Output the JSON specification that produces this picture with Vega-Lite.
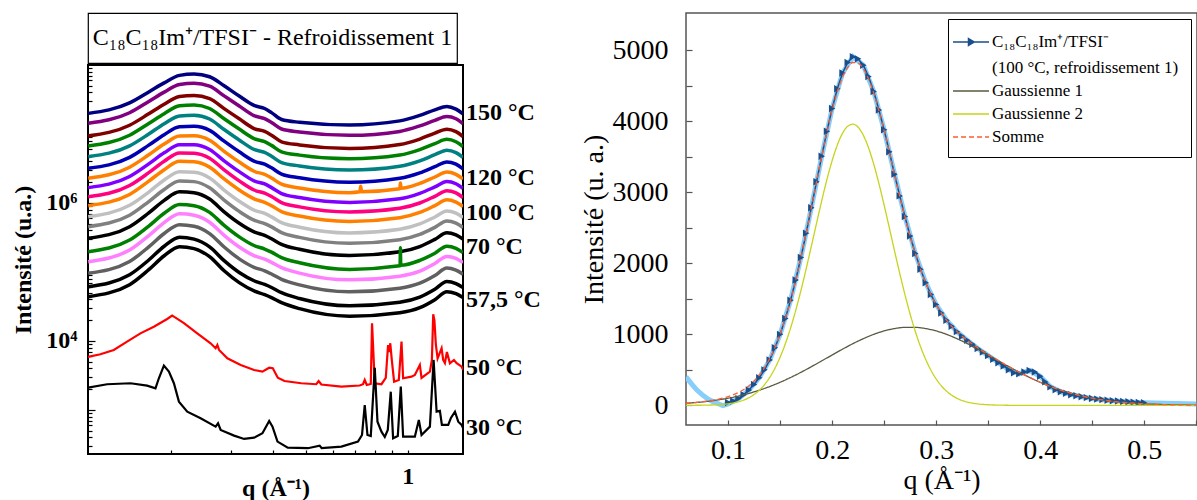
{
  "$schema": "https://vega.github.io/schema/vega-lite/v6.json",
  "padding": {"left": 10, "top": 12, "right": 0, "bottom": 0},
  "background": "white",
  "config": {
    "font": "Liberation Serif",
    "axis": {"grid": false, "domain": false, "labelFont": "Liberation Serif", "titleFont": "Liberation Serif", "labelColor": "black", "titleColor": "black"},
    "legend": {"labelFont": "Liberation Serif", "labelColor": "black"}
  },
  "resolve": {"scale": {"color": "independent", "strokeDash": "independent"}, "legend": {"color": "independent", "strokeDash": "independent"}},
  "datasets": {
    "ttl": [{"t": "C₁₈C₁₈Im⁺/TFSI⁻ - Refroidissement 1"}],
    "lab": [
      {"label": "150 °C", "q": 1.455, "I": 2.01e7},
      {"label": "120 °C", "q": 1.455, "I": 2.3e6},
      {"label": "100 °C", "q": 1.455, "I": 7.16e5},
      {"label": "70 °C", "q": 1.455, "I": 2.3e5},
      {"label": "57,5 °C", "q": 1.455, "I": 3.93e4},
      {"label": "50 °C", "q": 1.455, "I": 4.06e3},
      {"label": "30 °C", "q": 1.455, "I": 548}
    ],
    "liq": [
      {"T":"150","q":0.114,"I":1.99e7},{"T":"150","q":0.151,"I":2.82e7},{"T":"150","q":0.172,"I":4.07e7},{"T":"150","q":0.191,"I":5.50e7},{"T":"150","q":0.212,"I":7.08e7},{"T":"150","q":0.234,"I":7.41e7},{"T":"150","q":0.26,"I":6.76e7},{"T":"150","q":0.287,"I":5.01e7},{"T":"150","q":0.318,"I":3.55e7},{"T":"150","q":0.353,"I":2.57e7},{"T":"150","q":0.378,"I":2.34e7},{"T":"150","q":0.396,"I":2.04e7},{"T":"150","q":0.424,"I":1.62e7},{"T":"150","q":0.479,"I":1.48e7},{"T":"150","q":0.673,"I":1.35e7},{"T":"150","q":0.947,"I":1.55e7},{"T":"150","q":1.085,"I":1.86e7},{"T":"150","q":1.202,"I":2.24e7},{"T":"150","q":1.304,"I":2.51e7},{"T":"150","q":1.387,"I":2.29e7},{"T":"150","q":1.455,"I":1.95e7},
      {"T":"145","q":0.114,"I":1.43e7},{"T":"145","q":0.151,"I":2.03e7},{"T":"145","q":0.172,"I":2.96e7},{"T":"145","q":0.191,"I":4.04e7},{"T":"145","q":0.212,"I":5.20e7},{"T":"145","q":0.234,"I":5.42e7},{"T":"145","q":0.26,"I":4.94e7},{"T":"145","q":0.287,"I":3.57e7},{"T":"145","q":0.318,"I":2.55e7},{"T":"145","q":0.353,"I":1.83e7},{"T":"145","q":0.378,"I":1.67e7},{"T":"145","q":0.396,"I":1.47e7},{"T":"145","q":0.424,"I":1.18e7},{"T":"145","q":0.479,"I":1.07e7},{"T":"145","q":0.673,"I":9.57e6},{"T":"145","q":0.947,"I":1.09e7},{"T":"145","q":1.085,"I":1.31e7},{"T":"145","q":1.202,"I":1.58e7},{"T":"145","q":1.304,"I":1.79e7},{"T":"145","q":1.387,"I":1.66e7},{"T":"145","q":1.455,"I":1.41e7},
      {"T":"140","q":0.114,"I":9.35e6},{"T":"140","q":0.151,"I":1.34e7},{"T":"140","q":0.172,"I":1.96e7},{"T":"140","q":0.191,"I":2.70e7},{"T":"140","q":0.212,"I":3.49e7},{"T":"140","q":0.234,"I":3.61e7},{"T":"140","q":0.26,"I":3.25e7},{"T":"140","q":0.287,"I":2.33e7},{"T":"140","q":0.318,"I":1.66e7},{"T":"140","q":0.353,"I":1.19e7},{"T":"140","q":0.378,"I":1.09e7},{"T":"140","q":0.396,"I":9.59e6},{"T":"140","q":0.424,"I":7.71e6},{"T":"140","q":0.479,"I":6.95e6},{"T":"140","q":0.673,"I":6.17e6},{"T":"140","q":0.947,"I":7.03e6},{"T":"140","q":1.085,"I":8.45e6},{"T":"140","q":1.202,"I":1.03e7},{"T":"140","q":1.304,"I":1.17e7},{"T":"140","q":1.387,"I":1.08e7},{"T":"140","q":1.455,"I":9.18e6},
      {"T":"135","q":0.114,"I":6.70e6},{"T":"135","q":0.151,"I":9.59e6},{"T":"135","q":0.172,"I":1.42e7},{"T":"135","q":0.191,"I":1.97e7},{"T":"135","q":0.212,"I":2.56e7},{"T":"135","q":0.234,"I":2.63e7},{"T":"135","q":0.26,"I":2.34e7},{"T":"135","q":0.287,"I":1.66e7},{"T":"135","q":0.318,"I":1.18e7},{"T":"135","q":0.353,"I":8.51e6},{"T":"135","q":0.378,"I":7.76e6},{"T":"135","q":0.396,"I":6.84e6},{"T":"135","q":0.424,"I":5.51e6},{"T":"135","q":0.479,"I":4.94e6},{"T":"135","q":0.673,"I":4.36e6},{"T":"135","q":0.947,"I":4.95e6},{"T":"135","q":1.085,"I":5.94e6},{"T":"135","q":1.202,"I":7.24e6},{"T":"135","q":1.304,"I":8.36e6},{"T":"135","q":1.387,"I":7.71e6},{"T":"135","q":1.455,"I":6.58e6},
      {"T":"130","q":0.114,"I":4.69e6},{"T":"130","q":0.151,"I":6.73e6},{"T":"130","q":0.172,"I":1.00e7},{"T":"130","q":0.191,"I":1.41e7},{"T":"130","q":0.212,"I":1.83e7},{"T":"130","q":0.234,"I":1.87e7},{"T":"130","q":0.26,"I":1.65e7},{"T":"130","q":0.287,"I":1.16e7},{"T":"130","q":0.318,"I":8.18e6},{"T":"130","q":0.353,"I":5.93e6},{"T":"130","q":0.378,"I":5.41e6},{"T":"130","q":0.396,"I":4.76e6},{"T":"130","q":0.424,"I":3.85e6},{"T":"130","q":0.479,"I":3.44e6},{"T":"130","q":0.673,"I":3.00e6},{"T":"130","q":0.947,"I":3.41e6},{"T":"130","q":1.085,"I":4.08e6},{"T":"130","q":1.202,"I":5.01e6},{"T":"130","q":1.304,"I":5.82e6},{"T":"130","q":1.387,"I":5.38e6},{"T":"130","q":1.455,"I":4.59e6},
      {"T":"125","q":0.114,"I":3.18e6},{"T":"125","q":0.151,"I":4.58e6},{"T":"125","q":0.172,"I":6.89e6},{"T":"125","q":0.191,"I":9.77e6},{"T":"125","q":0.212,"I":1.27e7},{"T":"125","q":0.234,"I":1.29e7},{"T":"125","q":0.26,"I":1.13e7},{"T":"125","q":0.287,"I":7.87e6},{"T":"125","q":0.318,"I":5.52e6},{"T":"125","q":0.353,"I":4.01e6},{"T":"125","q":0.378,"I":3.65e6},{"T":"125","q":0.396,"I":3.23e6},{"T":"125","q":0.424,"I":2.62e6},{"T":"125","q":0.479,"I":2.32e6},{"T":"125","q":0.673,"I":2.00e6},{"T":"125","q":0.947,"I":2.28e6},{"T":"125","q":1.085,"I":2.73e6},{"T":"125","q":1.202,"I":3.36e6},{"T":"125","q":1.304,"I":3.94e6},{"T":"125","q":1.387,"I":3.65e6},{"T":"125","q":1.455,"I":3.12e6},
      {"T":"120","q":0.114,"I":2.28e6},{"T":"120","q":0.151,"I":3.30e6},{"T":"120","q":0.172,"I":4.99e6},{"T":"120","q":0.191,"I":7.14e6},{"T":"120","q":0.212,"I":9.33e6},{"T":"120","q":0.234,"I":9.42e6},{"T":"120","q":0.26,"I":8.13e6},{"T":"120","q":0.287,"I":5.61e6},{"T":"120","q":0.318,"I":3.93e6},{"T":"120","q":0.353,"I":2.86e6},{"T":"120","q":0.378,"I":2.60e6},{"T":"120","q":0.396,"I":2.30e6},{"T":"120","q":0.424,"I":1.87e6},{"T":"120","q":0.479,"I":1.65e6},{"T":"120","q":0.673,"I":1.41e6},{"T":"120","q":0.722,"I":1.45e6},{"T":"120","q":0.726,"I":1.75e6},{"T":"120","q":0.73,"I":1.46e6},{"T":"120","q":0.947,"I":1.61e6},{"T":"120","q":0.951,"I":1.95e6},{"T":"120","q":0.955,"I":1.63e6},{"T":"120","q":1.085,"I":1.92e6},{"T":"120","q":1.202,"I":2.38e6},{"T":"120","q":1.304,"I":2.81e6},{"T":"120","q":1.387,"I":2.60e6},{"T":"120","q":1.455,"I":2.23e6},
      {"T":"115","q":0.114,"I":1.67e6},{"T":"115","q":0.151,"I":2.42e6},{"T":"115","q":0.172,"I":3.69e6},{"T":"115","q":0.191,"I":5.33e6},{"T":"115","q":0.212,"I":7.00e6},{"T":"115","q":0.234,"I":7.00e6},{"T":"115","q":0.26,"I":5.97e6},{"T":"115","q":0.287,"I":4.09e6},{"T":"115","q":0.318,"I":2.85e6},{"T":"115","q":0.353,"I":2.08e6},{"T":"115","q":0.378,"I":1.89e6},{"T":"115","q":0.396,"I":1.67e6},{"T":"115","q":0.424,"I":1.37e6},{"T":"115","q":0.479,"I":1.20e6},{"T":"115","q":0.673,"I":1.02e6},{"T":"115","q":0.947,"I":1.15e6},{"T":"115","q":1.085,"I":1.38e6},{"T":"115","q":1.202,"I":1.71e6},{"T":"115","q":1.304,"I":2.05e6},{"T":"115","q":1.387,"I":1.90e6},{"T":"115","q":1.455,"I":1.63e6},
      {"T":"110","q":0.114,"I":1.23e6},{"T":"110","q":0.151,"I":1.79e6},{"T":"110","q":0.172,"I":2.75e6},{"T":"110","q":0.191,"I":4.03e6},{"T":"110","q":0.212,"I":5.30e6},{"T":"110","q":0.234,"I":5.26e6},{"T":"110","q":0.26,"I":4.45e6},{"T":"110","q":0.287,"I":3.02e6},{"T":"110","q":0.318,"I":2.09e6},{"T":"110","q":0.353,"I":1.53e6},{"T":"110","q":0.378,"I":1.39e6},{"T":"110","q":0.396,"I":1.24e6},{"T":"110","q":0.424,"I":1.01e6},{"T":"110","q":0.479,"I":8.79e5},{"T":"110","q":0.673,"I":7.40e5},{"T":"110","q":0.947,"I":8.39e5},{"T":"110","q":1.085,"I":1.00e6},{"T":"110","q":1.202,"I":1.25e6},{"T":"110","q":1.304,"I":1.51e6},{"T":"110","q":1.387,"I":1.40e6},{"T":"110","q":1.455,"I":1.20e6},
      {"T":"105","q":0.114,"I":9.14e5},{"T":"105","q":0.151,"I":1.33e6},{"T":"105","q":0.172,"I":2.07e6},{"T":"105","q":0.191,"I":3.04e6},{"T":"105","q":0.212,"I":4.02e6},{"T":"105","q":0.234,"I":3.97e6},{"T":"105","q":0.26,"I":3.31e6},{"T":"105","q":0.287,"I":2.23e6},{"T":"105","q":0.318,"I":1.54e6},{"T":"105","q":0.353,"I":1.14e6},{"T":"105","q":0.378,"I":1.02e6},{"T":"105","q":0.396,"I":9.12e5},{"T":"105","q":0.424,"I":7.50e5},{"T":"105","q":0.479,"I":6.47e5},{"T":"105","q":0.673,"I":5.41e5},{"T":"105","q":0.947,"I":6.12e5},{"T":"105","q":1.085,"I":7.29e5},{"T":"105","q":1.202,"I":9.16e5},{"T":"105","q":1.304,"I":1.11e6},{"T":"105","q":1.387,"I":1.03e6},{"T":"105","q":1.455,"I":8.91e5},
      {"T":"100","q":0.114,"I":6.32e5},{"T":"100","q":0.151,"I":9.25e5},{"T":"100","q":0.172,"I":1.44e6},{"T":"100","q":0.191,"I":2.15e6},{"T":"100","q":0.212,"I":2.84e6},{"T":"100","q":0.234,"I":2.79e6},{"T":"100","q":0.26,"I":2.31e6},{"T":"100","q":0.287,"I":1.54e6},{"T":"100","q":0.318,"I":1.06e6},{"T":"100","q":0.353,"I":7.82e5},{"T":"100","q":0.378,"I":7.05e5},{"T":"100","q":0.396,"I":6.30e5},{"T":"100","q":0.424,"I":5.19e5},{"T":"100","q":0.479,"I":4.45e5},{"T":"100","q":0.673,"I":3.68e5},{"T":"100","q":0.947,"I":4.17e5},{"T":"100","q":1.085,"I":4.97e5},{"T":"100","q":1.202,"I":6.27e5},{"T":"100","q":1.304,"I":7.67e5},{"T":"100","q":1.387,"I":7.13e5},{"T":"100","q":1.455,"I":6.17e5},
      {"T":"90","q":0.114,"I":4.54e5},{"T":"90","q":0.151,"I":6.65e5},{"T":"90","q":0.172,"I":1.05e6},{"T":"90","q":0.191,"I":1.57e6},{"T":"90","q":0.212,"I":2.09e6},{"T":"90","q":0.234,"I":2.04e6},{"T":"90","q":0.26,"I":1.66e6},{"T":"90","q":0.287,"I":1.10e6},{"T":"90","q":0.318,"I":7.55e5},{"T":"90","q":0.353,"I":5.58e5},{"T":"90","q":0.378,"I":5.02e5},{"T":"90","q":0.396,"I":4.50e5},{"T":"90","q":0.424,"I":3.72e5},{"T":"90","q":0.479,"I":3.17e5},{"T":"90","q":0.673,"I":2.60e5},{"T":"90","q":0.947,"I":2.94e5},{"T":"90","q":1.085,"I":3.50e5},{"T":"90","q":1.202,"I":4.44e5},{"T":"90","q":1.304,"I":5.48e5},{"T":"90","q":1.387,"I":5.11e5},{"T":"90","q":1.455,"I":4.42e5},
      {"T":"80","q":0.114,"I":3.08e5},{"T":"80","q":0.151,"I":4.53e5},{"T":"80","q":0.172,"I":7.18e5},{"T":"80","q":0.191,"I":1.09e6},{"T":"80","q":0.212,"I":1.45e6},{"T":"80","q":0.234,"I":1.41e6},{"T":"80","q":0.26,"I":1.14e6},{"T":"80","q":0.287,"I":7.43e5},{"T":"80","q":0.318,"I":5.08e5},{"T":"80","q":0.353,"I":3.78e5},{"T":"80","q":0.378,"I":3.39e5},{"T":"80","q":0.396,"I":3.03e5},{"T":"80","q":0.424,"I":2.52e5},{"T":"80","q":0.479,"I":2.13e5},{"T":"80","q":0.673,"I":1.73e5},{"T":"80","q":0.947,"I":1.96e5},{"T":"80","q":1.085,"I":2.33e5},{"T":"80","q":1.202,"I":2.97e5},{"T":"80","q":1.304,"I":3.71e5},{"T":"80","q":1.387,"I":3.44e5},{"T":"80","q":1.455,"I":2.99e5},
      {"T":"70","q":0.114,"I":1.97e5},{"T":"70","q":0.151,"I":2.90e5},{"T":"70","q":0.172,"I":4.63e5},{"T":"70","q":0.191,"I":7.11e5},{"T":"70","q":0.212,"I":9.51e5},{"T":"70","q":0.234,"I":9.14e5},{"T":"70","q":0.26,"I":7.31e5},{"T":"70","q":0.287,"I":4.74e5},{"T":"70","q":0.318,"I":3.23e5},{"T":"70","q":0.353,"I":2.40e5},{"T":"70","q":0.378,"I":2.15e5},{"T":"70","q":0.396,"I":1.94e5},{"T":"70","q":0.424,"I":1.61e5},{"T":"70","q":0.479,"I":1.36e5},{"T":"70","q":0.673,"I":1.09e5},{"T":"70","q":0.947,"I":1.23e5},{"T":"70","q":0.949,"I":1.24e5},{"T":"70","q":0.951,"I":2.24e5},{"T":"70","q":0.953,"I":1.25e5},{"T":"70","q":1.085,"I":1.47e5},{"T":"70","q":1.202,"I":1.87e5},{"T":"70","q":1.304,"I":2.36e5},{"T":"70","q":1.387,"I":2.20e5},{"T":"70","q":1.455,"I":1.91e5},
      {"T":"65","q":0.114,"I":1.41e5},{"T":"65","q":0.151,"I":2.08e5},{"T":"65","q":0.172,"I":3.36e5},{"T":"65","q":0.191,"I":5.20e5},{"T":"65","q":0.212,"I":6.97e5},{"T":"65","q":0.234,"I":6.65e5},{"T":"65","q":0.26,"I":5.26e5},{"T":"65","q":0.287,"I":3.39e5},{"T":"65","q":0.318,"I":2.30e5},{"T":"65","q":0.353,"I":1.71e5},{"T":"65","q":0.378,"I":1.53e5},{"T":"65","q":0.396,"I":1.38e5},{"T":"65","q":0.424,"I":1.16e5},{"T":"65","q":0.479,"I":9.64e4},{"T":"65","q":0.673,"I":7.69e4},{"T":"65","q":0.947,"I":8.69e4},{"T":"65","q":1.085,"I":1.03e5},{"T":"65","q":1.202,"I":1.33e5},{"T":"65","q":1.304,"I":1.68e5},{"T":"65","q":1.387,"I":1.57e5},{"T":"65","q":1.455,"I":1.37e5},
      {"T":"62.5","q":0.114,"I":9.57e4},{"T":"62.5","q":0.151,"I":1.42e5},{"T":"62.5","q":0.172,"I":2.31e5},{"T":"62.5","q":0.191,"I":3.61e5},{"T":"62.5","q":0.212,"I":4.84e5},{"T":"62.5","q":0.234,"I":4.59e5},{"T":"62.5","q":0.26,"I":3.60e5},{"T":"62.5","q":0.287,"I":2.30e5},{"T":"62.5","q":0.318,"I":1.55e5},{"T":"62.5","q":0.353,"I":1.16e5},{"T":"62.5","q":0.378,"I":1.04e5},{"T":"62.5","q":0.396,"I":9.33e4},{"T":"62.5","q":0.424,"I":7.83e4},{"T":"62.5","q":0.479,"I":6.50e4},{"T":"62.5","q":0.673,"I":5.15e4},{"T":"62.5","q":0.947,"I":5.81e4},{"T":"62.5","q":1.085,"I":6.87e4},{"T":"62.5","q":1.202,"I":8.89e4},{"T":"62.5","q":1.304,"I":1.14e5},{"T":"62.5","q":1.387,"I":1.06e5},{"T":"62.5","q":1.455,"I":9.29e4},
      {"T":"60","q":0.114,"I":6.12e4},{"T":"60","q":0.151,"I":9.12e4},{"T":"60","q":0.172,"I":1.49e5},{"T":"60","q":0.191,"I":2.36e5},{"T":"60","q":0.212,"I":3.18e5},{"T":"60","q":0.234,"I":2.99e5},{"T":"60","q":0.26,"I":2.31e5},{"T":"60","q":0.287,"I":1.46e5},{"T":"60","q":0.318,"I":9.84e4},{"T":"60","q":0.353,"I":7.40e4},{"T":"60","q":0.378,"I":6.59e4},{"T":"60","q":0.396,"I":5.96e4},{"T":"60","q":0.424,"I":5.01e4},{"T":"60","q":0.479,"I":4.13e4},{"T":"60","q":0.673,"I":3.24e4},{"T":"60","q":0.947,"I":3.65e4},{"T":"60","q":1.085,"I":4.33e4},{"T":"60","q":1.202,"I":5.62e4},{"T":"60","q":1.304,"I":7.26e4},{"T":"60","q":1.387,"I":6.78e4},{"T":"60","q":1.455,"I":5.93e4},
      {"T":"57.5","q":0.114,"I":4.39e4},{"T":"57.5","q":0.151,"I":6.55e4},{"T":"57.5","q":0.172,"I":1.08e5},{"T":"57.5","q":0.191,"I":1.72e5},{"T":"57.5","q":0.212,"I":2.33e5},{"T":"57.5","q":0.234,"I":2.18e5},{"T":"57.5","q":0.26,"I":1.67e5},{"T":"57.5","q":0.287,"I":1.04e5},{"T":"57.5","q":0.318,"I":7.00e4},{"T":"57.5","q":0.353,"I":5.27e4},{"T":"57.5","q":0.378,"I":4.69e4},{"T":"57.5","q":0.396,"I":4.25e4},{"T":"57.5","q":0.424,"I":3.59e4},{"T":"57.5","q":0.479,"I":2.94e4},{"T":"57.5","q":0.673,"I":2.29e4},{"T":"57.5","q":0.947,"I":2.57e4},{"T":"57.5","q":1.085,"I":3.04e4},{"T":"57.5","q":1.202,"I":3.97e4},{"T":"57.5","q":1.304,"I":5.18e4},{"T":"57.5","q":1.387,"I":4.84e4},{"T":"57.5","q":1.455,"I":4.25e4}
    ],
    "cry": [
      {"T":"50","q":0.1138,"I":5860},{"T":"50","q":0.1238,"I":6410},{"T":"50","q":0.1356,"I":7410},{"T":"50","q":0.1484,"I":9770},{"T":"50","q":0.1625,"I":12900},{"T":"50","q":0.178,"I":16100},{"T":"50","q":0.1949,"I":20800},{"T":"50","q":0.2016,"I":23300},{"T":"50","q":0.2062,"I":21800},{"T":"50","q":0.2184,"I":18100},{"T":"50","q":0.2391,"I":12900},{"T":"50","q":0.2618,"I":9270},{"T":"50","q":0.2709,"I":7840},{"T":"50","q":0.2741,"I":8750},{"T":"50","q":0.2773,"I":7410},{"T":"50","q":0.2934,"I":5610},{"T":"50","q":0.3212,"I":4490},{"T":"50","q":0.3518,"I":3800},{"T":"50","q":0.3724,"I":3590},{"T":"50","q":0.3898,"I":4100},{"T":"50","q":0.3995,"I":4020},{"T":"50","q":0.4133,"I":2940},{"T":"50","q":0.4325,"I":2630},{"T":"50","q":0.4847,"I":2440},{"T":"50","q":0.537,"I":2360},{"T":"50","q":0.5455,"I":2630},{"T":"50","q":0.5556,"I":2340},{"T":"50","q":0.6366,"I":2180},{"T":"50","q":0.7211,"I":2260},{"T":"50","q":0.7376,"I":2360},{"T":"50","q":0.7462,"I":2720},{"T":"50","q":0.7566,"I":2300},{"T":"50","q":0.7775,"I":2380},{"T":"50","q":0.7842,"I":18100},{"T":"50","q":0.7988,"I":2440},{"T":"50","q":0.836,"I":2360},{"T":"50","q":0.8608,"I":2910},{"T":"50","q":0.8745,"I":8750},{"T":"50","q":0.8817,"I":6930},{"T":"50","q":0.8876,"I":9270},{"T":"50","q":0.8968,"I":5310},{"T":"50","q":0.911,"I":2570},{"T":"50","q":0.9406,"I":2720},{"T":"50","q":0.9581,"I":9770},{"T":"50","q":0.9685,"I":2880},{"T":"50","q":1.0254,"I":3040},{"T":"50","q":1.0489,"I":3210},{"T":"50","q":1.0852,"I":4490},{"T":"50","q":1.0977,"I":2910},{"T":"50","q":1.1619,"I":3590},{"T":"50","q":1.1778,"I":5310},{"T":"50","q":1.1884,"I":24400},{"T":"50","q":1.198,"I":20100},{"T":"50","q":1.2102,"I":8750},{"T":"50","q":1.2244,"I":5610},{"T":"50","q":1.258,"I":7840},{"T":"50","q":1.2718,"I":5310},{"T":"50","q":1.2867,"I":4800},{"T":"50","q":1.3043,"I":6930},{"T":"50","q":1.3313,"I":4750},{"T":"50","q":1.368,"I":5310},{"T":"50","q":1.3936,"I":4750},{"T":"50","q":1.4417,"I":4250},{"T":"50","q":1.455,"I":3800},
      {"T":"30","q":0.1138,"I":2100},{"T":"30","q":0.1296,"I":2360},{"T":"30","q":0.1519,"I":2440},{"T":"30","q":0.1701,"I":2250},{"T":"30","q":0.18,"I":2060},{"T":"30","q":0.1842,"I":2880},{"T":"30","q":0.1906,"I":4390},{"T":"30","q":0.1972,"I":3590},{"T":"30","q":0.204,"I":2440},{"T":"30","q":0.2111,"I":1320},{"T":"30","q":0.2234,"I":944},{"T":"30","q":0.2446,"I":759},{"T":"30","q":0.2709,"I":573},{"T":"30","q":0.2754,"I":641},{"T":"30","q":0.2803,"I":513},{"T":"30","q":0.3071,"I":425},{"T":"30","q":0.3287,"I":380},{"T":"30","q":0.3518,"I":397},{"T":"30","q":0.3724,"I":459},{"T":"30","q":0.3898,"I":693},{"T":"30","q":0.3987,"I":573},{"T":"30","q":0.4125,"I":348},{"T":"30","q":0.4423,"I":284},{"T":"30","q":0.507,"I":279},{"T":"30","q":0.5492,"I":304},{"T":"30","q":0.5566,"I":281},{"T":"30","q":0.6366,"I":294},{"T":"30","q":0.7128,"I":348},{"T":"30","q":0.7325,"I":434},{"T":"30","q":0.7462,"I":1180},{"T":"30","q":0.7601,"I":434},{"T":"30","q":0.7775,"I":420},{"T":"30","q":0.7988,"I":4100},{"T":"30","q":0.8137,"I":676},{"T":"30","q":0.836,"I":485},{"T":"30","q":0.8551,"I":406},{"T":"30","q":0.8727,"I":513},{"T":"30","q":0.8905,"I":1840},{"T":"30","q":0.9048,"I":389},{"T":"30","q":0.9342,"I":420},{"T":"30","q":0.9534,"I":2180},{"T":"30","q":0.9685,"I":410},{"T":"30","q":1.0489,"I":410},{"T":"30","q":1.0778,"I":716},{"T":"30","q":1.0977,"I":434},{"T":"30","q":1.1619,"I":573},{"T":"30","q":1.1914,"I":5310},{"T":"30","q":1.2161,"I":944},{"T":"30","q":1.2437,"I":968},{"T":"30","q":1.2606,"I":607},{"T":"30","q":1.316,"I":607},{"T":"30","q":1.3404,"I":766},{"T":"30","q":1.3776,"I":944},{"T":"30","q":1.4088,"I":676},{"T":"30","q":1.4417,"I":607},{"T":"30","q":1.455,"I":548}
    ],
    "raw": [
      {"q":0.0595,"I":400},{"q":0.065,"I":300},{"q":0.07,"I":215},{"q":0.075,"I":150},{"q":0.08,"I":95},{"q":0.085,"I":55},{"q":0.09,"I":25},{"q":0.095,"I":-5},{"q":0.1,"I":20},{"q":0.11,"I":95},{"q":0.12,"I":215},{"q":0.13,"I":390},{"q":0.14,"I":640},{"q":0.15,"I":1000},{"q":0.16,"I":1479},{"q":0.17,"I":2083},{"q":0.18,"I":2784},{"q":0.19,"I":3508},{"q":0.2,"I":4180},{"q":0.21,"I":4680},{"q":0.22,"I":4910},{"q":0.23,"I":4790},{"q":0.24,"I":4420},{"q":0.25,"I":3880},{"q":0.26,"I":3256},{"q":0.27,"I":2658},{"q":0.28,"I":2138},{"q":0.29,"I":1726},{"q":0.3,"I":1419},{"q":0.31,"I":1199},{"q":0.32,"I":1038},{"q":0.33,"I":915},{"q":0.34,"I":800},{"q":0.35,"I":700},{"q":0.36,"I":600},{"q":0.37,"I":500},{"q":0.38,"I":445},{"q":0.39,"I":490},{"q":0.4,"I":410},{"q":0.41,"I":260},{"q":0.42,"I":190},{"q":0.43,"I":150},{"q":0.44,"I":120},{"q":0.45,"I":97},{"q":0.46,"I":80},{"q":0.47,"I":65},{"q":0.48,"I":55},{"q":0.49,"I":45},{"q":0.5,"I":38},{"q":0.51,"I":32},{"q":0.52,"I":28},{"q":0.53,"I":25},{"q":0.54,"I":22},{"q":0.55,"I":20}
    ],
    "meas": [
      {"s":"C18","q":0.1,"I":40},{"s":"C18","q":0.105,"I":60},{"s":"C18","q":0.11,"I":95},{"s":"C18","q":0.115,"I":150},{"s":"C18","q":0.12,"I":215},{"s":"C18","q":0.125,"I":295},{"s":"C18","q":0.13,"I":390},{"s":"C18","q":0.135,"I":500},{"s":"C18","q":0.14,"I":640},{"s":"C18","q":0.145,"I":810},{"s":"C18","q":0.15,"I":1000},{"s":"C18","q":0.155,"I":1224},{"s":"C18","q":0.16,"I":1479},{"s":"C18","q":0.165,"I":1765},{"s":"C18","q":0.17,"I":2083},{"s":"C18","q":0.175,"I":2425},{"s":"C18","q":0.18,"I":2784},{"s":"C18","q":0.185,"I":3148},{"s":"C18","q":0.19,"I":3508},{"s":"C18","q":0.195,"I":3860},{"s":"C18","q":0.2,"I":4180},{"s":"C18","q":0.205,"I":4460},{"s":"C18","q":0.21,"I":4680},{"s":"C18","q":0.215,"I":4830},{"s":"C18","q":0.22,"I":4910},{"s":"C18","q":0.225,"I":4880},{"s":"C18","q":0.23,"I":4790},{"s":"C18","q":0.235,"I":4630},{"s":"C18","q":0.24,"I":4420},{"s":"C18","q":0.245,"I":4160},{"s":"C18","q":0.25,"I":3880},{"s":"C18","q":0.255,"I":3570},{"s":"C18","q":0.26,"I":3256},{"s":"C18","q":0.265,"I":2950},{"s":"C18","q":0.27,"I":2658},{"s":"C18","q":0.275,"I":2385},{"s":"C18","q":0.28,"I":2138},{"s":"C18","q":0.285,"I":1917},{"s":"C18","q":0.29,"I":1726},{"s":"C18","q":0.295,"I":1560},{"s":"C18","q":0.3,"I":1419},{"s":"C18","q":0.305,"I":1299},{"s":"C18","q":0.31,"I":1199},{"s":"C18","q":0.315,"I":1113},{"s":"C18","q":0.32,"I":1038},{"s":"C18","q":0.325,"I":973},{"s":"C18","q":0.33,"I":915},{"s":"C18","q":0.335,"I":860},{"s":"C18","q":0.34,"I":800},{"s":"C18","q":0.345,"I":750},{"s":"C18","q":0.35,"I":700},{"s":"C18","q":0.355,"I":650},{"s":"C18","q":0.36,"I":600},{"s":"C18","q":0.365,"I":555},{"s":"C18","q":0.37,"I":500},{"s":"C18","q":0.375,"I":460},{"s":"C18","q":0.38,"I":445},{"s":"C18","q":0.385,"I":470},{"s":"C18","q":0.39,"I":490},{"s":"C18","q":0.395,"I":470},{"s":"C18","q":0.4,"I":410},{"s":"C18","q":0.405,"I":330},{"s":"C18","q":0.41,"I":260},{"s":"C18","q":0.415,"I":220},{"s":"C18","q":0.42,"I":190},{"s":"C18","q":0.425,"I":170},{"s":"C18","q":0.43,"I":150},{"s":"C18","q":0.435,"I":135},{"s":"C18","q":0.44,"I":120},{"s":"C18","q":0.445,"I":108},{"s":"C18","q":0.45,"I":97},{"s":"C18","q":0.455,"I":88},{"s":"C18","q":0.46,"I":80},{"s":"C18","q":0.465,"I":72},{"s":"C18","q":0.47,"I":65},{"s":"C18","q":0.475,"I":60},{"s":"C18","q":0.48,"I":55},{"s":"C18","q":0.485,"I":50},{"s":"C18","q":0.49,"I":45},{"s":"C18","q":0.495,"I":41},{"s":"C18","q":0.5,"I":38}
    ],
    "fit": [
      {"s":"Gaussienne 1","q":0.0595,"I":29},{"s":"Gaussienne 1","q":0.07,"I":41},{"s":"Gaussienne 1","q":0.08,"I":56},{"s":"Gaussienne 1","q":0.09,"I":76},{"s":"Gaussienne 1","q":0.1,"I":100},{"s":"Gaussienne 1","q":0.11,"I":131},{"s":"Gaussienne 1","q":0.12,"I":168},{"s":"Gaussienne 1","q":0.13,"I":213},{"s":"Gaussienne 1","q":0.14,"I":265},{"s":"Gaussienne 1","q":0.15,"I":325},{"s":"Gaussienne 1","q":0.16,"I":392},{"s":"Gaussienne 1","q":0.17,"I":465},{"s":"Gaussienne 1","q":0.18,"I":544},{"s":"Gaussienne 1","q":0.19,"I":626},{"s":"Gaussienne 1","q":0.2,"I":709},{"s":"Gaussienne 1","q":0.21,"I":791},{"s":"Gaussienne 1","q":0.22,"I":869},{"s":"Gaussienne 1","q":0.23,"I":939},{"s":"Gaussienne 1","q":0.24,"I":1000},{"s":"Gaussienne 1","q":0.25,"I":1048},{"s":"Gaussienne 1","q":0.26,"I":1081},{"s":"Gaussienne 1","q":0.27,"I":1098},{"s":"Gaussienne 1","q":0.28,"I":1098},{"s":"Gaussienne 1","q":0.29,"I":1081},{"s":"Gaussienne 1","q":0.3,"I":1048},{"s":"Gaussienne 1","q":0.31,"I":1000},{"s":"Gaussienne 1","q":0.32,"I":939},{"s":"Gaussienne 1","q":0.33,"I":869},{"s":"Gaussienne 1","q":0.34,"I":791},{"s":"Gaussienne 1","q":0.35,"I":709},{"s":"Gaussienne 1","q":0.36,"I":626},{"s":"Gaussienne 1","q":0.37,"I":544},{"s":"Gaussienne 1","q":0.38,"I":465},{"s":"Gaussienne 1","q":0.39,"I":392},{"s":"Gaussienne 1","q":0.4,"I":325},{"s":"Gaussienne 1","q":0.41,"I":265},{"s":"Gaussienne 1","q":0.42,"I":213},{"s":"Gaussienne 1","q":0.43,"I":168},{"s":"Gaussienne 1","q":0.44,"I":131},{"s":"Gaussienne 1","q":0.45,"I":100},{"s":"Gaussienne 1","q":0.46,"I":76},{"s":"Gaussienne 1","q":0.47,"I":56},{"s":"Gaussienne 1","q":0.48,"I":41},{"s":"Gaussienne 1","q":0.49,"I":30},{"s":"Gaussienne 1","q":0.5,"I":21},{"s":"Gaussienne 1","q":0.51,"I":15},{"s":"Gaussienne 1","q":0.52,"I":10},{"s":"Gaussienne 1","q":0.53,"I":7},{"s":"Gaussienne 1","q":0.54,"I":5},{"s":"Gaussienne 1","q":0.55,"I":3},
      {"s":"Gaussienne 2","q":0.0595,"I":0},{"s":"Gaussienne 2","q":0.07,"I":1},{"s":"Gaussienne 2","q":0.08,"I":3},{"s":"Gaussienne 2","q":0.09,"I":9},{"s":"Gaussienne 2","q":0.1,"I":22},{"s":"Gaussienne 2","q":0.11,"I":50},{"s":"Gaussienne 2","q":0.12,"I":107},{"s":"Gaussienne 2","q":0.125,"I":152},{"s":"Gaussienne 2","q":0.13,"I":212},{"s":"Gaussienne 2","q":0.135,"I":292},{"s":"Gaussienne 2","q":0.14,"I":394},{"s":"Gaussienne 2","q":0.145,"I":522},{"s":"Gaussienne 2","q":0.15,"I":679},{"s":"Gaussienne 2","q":0.155,"I":867},{"s":"Gaussienne 2","q":0.16,"I":1087},{"s":"Gaussienne 2","q":0.165,"I":1338},{"s":"Gaussienne 2","q":0.17,"I":1618},{"s":"Gaussienne 2","q":0.175,"I":1921},{"s":"Gaussienne 2","q":0.18,"I":2240},{"s":"Gaussienne 2","q":0.185,"I":2564},{"s":"Gaussienne 2","q":0.19,"I":2882},{"s":"Gaussienne 2","q":0.195,"I":3181},{"s":"Gaussienne 2","q":0.2,"I":3446},{"s":"Gaussienne 2","q":0.205,"I":3667},{"s":"Gaussienne 2","q":0.21,"I":3832},{"s":"Gaussienne 2","q":0.215,"I":3931},{"s":"Gaussienne 2","q":0.22,"I":3960},{"s":"Gaussienne 2","q":0.225,"I":3917},{"s":"Gaussienne 2","q":0.23,"I":3804},{"s":"Gaussienne 2","q":0.235,"I":3627},{"s":"Gaussienne 2","q":0.24,"I":3397},{"s":"Gaussienne 2","q":0.245,"I":3123},{"s":"Gaussienne 2","q":0.25,"I":2819},{"s":"Gaussienne 2","q":0.255,"I":2499},{"s":"Gaussienne 2","q":0.26,"I":2175},{"s":"Gaussienne 2","q":0.265,"I":1859},{"s":"Gaussienne 2","q":0.27,"I":1560},{"s":"Gaussienne 2","q":0.275,"I":1285},{"s":"Gaussienne 2","q":0.28,"I":1040},{"s":"Gaussienne 2","q":0.285,"I":826},{"s":"Gaussienne 2","q":0.29,"I":645},{"s":"Gaussienne 2","q":0.295,"I":494},{"s":"Gaussienne 2","q":0.3,"I":371},{"s":"Gaussienne 2","q":0.305,"I":274},{"s":"Gaussienne 2","q":0.31,"I":199},{"s":"Gaussienne 2","q":0.315,"I":142},{"s":"Gaussienne 2","q":0.32,"I":99},{"s":"Gaussienne 2","q":0.325,"I":68},{"s":"Gaussienne 2","q":0.33,"I":46},{"s":"Gaussienne 2","q":0.34,"I":20},{"s":"Gaussienne 2","q":0.35,"I":8},{"s":"Gaussienne 2","q":0.36,"I":3},{"s":"Gaussienne 2","q":0.38,"I":0},{"s":"Gaussienne 2","q":0.45,"I":0},{"s":"Gaussienne 2","q":0.55,"I":0},
      {"s":"Somme","q":0.0595,"I":29},{"s":"Somme","q":0.07,"I":42},{"s":"Somme","q":0.08,"I":59},{"s":"Somme","q":0.09,"I":85},{"s":"Somme","q":0.1,"I":122},{"s":"Somme","q":0.11,"I":181},{"s":"Somme","q":0.12,"I":275},{"s":"Somme","q":0.125,"I":342},{"s":"Somme","q":0.13,"I":425},{"s":"Somme","q":0.135,"I":530},{"s":"Somme","q":0.14,"I":659},{"s":"Somme","q":0.145,"I":816},{"s":"Somme","q":0.15,"I":1004},{"s":"Somme","q":0.155,"I":1224},{"s":"Somme","q":0.16,"I":1479},{"s":"Somme","q":0.165,"I":1765},{"s":"Somme","q":0.17,"I":2083},{"s":"Somme","q":0.175,"I":2425},{"s":"Somme","q":0.18,"I":2784},{"s":"Somme","q":0.185,"I":3148},{"s":"Somme","q":0.19,"I":3508},{"s":"Somme","q":0.195,"I":3848},{"s":"Somme","q":0.2,"I":4155},{"s":"Somme","q":0.205,"I":4417},{"s":"Somme","q":0.21,"I":4623},{"s":"Somme","q":0.215,"I":4761},{"s":"Somme","q":0.22,"I":4829},{"s":"Somme","q":0.225,"I":4822},{"s":"Somme","q":0.23,"I":4743},{"s":"Somme","q":0.235,"I":4598},{"s":"Somme","q":0.24,"I":4397},{"s":"Somme","q":0.245,"I":4148},{"s":"Somme","q":0.25,"I":3867},{"s":"Somme","q":0.255,"I":3565},{"s":"Somme","q":0.26,"I":3256},{"s":"Somme","q":0.265,"I":2950},{"s":"Somme","q":0.27,"I":2658},{"s":"Somme","q":0.275,"I":2385},{"s":"Somme","q":0.28,"I":2138},{"s":"Somme","q":0.285,"I":1917},{"s":"Somme","q":0.29,"I":1726},{"s":"Somme","q":0.295,"I":1560},{"s":"Somme","q":0.3,"I":1419},{"s":"Somme","q":0.305,"I":1299},{"s":"Somme","q":0.31,"I":1199},{"s":"Somme","q":0.315,"I":1113},{"s":"Somme","q":0.32,"I":1038},{"s":"Somme","q":0.325,"I":973},{"s":"Somme","q":0.33,"I":915},{"s":"Somme","q":0.34,"I":811},{"s":"Somme","q":0.35,"I":717},{"s":"Somme","q":0.36,"I":629},{"s":"Somme","q":0.37,"I":545},{"s":"Somme","q":0.38,"I":465},{"s":"Somme","q":0.39,"I":392},{"s":"Somme","q":0.4,"I":325},{"s":"Somme","q":0.41,"I":265},{"s":"Somme","q":0.42,"I":213},{"s":"Somme","q":0.43,"I":168},{"s":"Somme","q":0.44,"I":131},{"s":"Somme","q":0.45,"I":100},{"s":"Somme","q":0.46,"I":76},{"s":"Somme","q":0.47,"I":56},{"s":"Somme","q":0.48,"I":41},{"s":"Somme","q":0.49,"I":30},{"s":"Somme","q":0.5,"I":21},{"s":"Somme","q":0.51,"I":15},{"s":"Somme","q":0.52,"I":10},{"s":"Somme","q":0.53,"I":7},{"s":"Somme","q":0.54,"I":5},{"s":"Somme","q":0.55,"I":3}
    ]
  },
  "hconcat": [
    {
      "bounds": "flush",
      "spacing": 2,
      "vconcat": [
        {
          "width": 369, "height": 50,
          "view": {"stroke": "black", "strokeWidth": 1.2},
          "data": {"name": "ttl"},
          "mark": {"type": "text", "font": "Liberation Serif", "fontSize": 24, "color": "black"},
          "encoding": {"text": {"field": "t", "type": "nominal"}}
        },
        {
          "width": 375, "height": 389,
          "view": {"stroke": "black", "strokeWidth": 2},
          "encoding": {
            "x": {"field": "q", "type": "quantitative", "scale": {"type": "log", "domain": [0.1138, 1.455], "nice": false},
              "axis": {"values": [0.2,0.3,0.4,0.5,0.6,0.7,0.8,0.9,1], "labelExpr": "datum.value == 1 ? '1' : ''", "tickSize": -4, "tickColor": "black", "tickWidth": 1.2, "labelFontSize": 24, "labelFontWeight": "bold", "labelPadding": 14, "title": "q (Å⁻¹)", "titleFontSize": 24, "titleFontWeight": "bold", "titlePadding": -12}},
            "y": {"field": "I", "type": "quantitative", "scale": {"type": "log", "domain": [230, 100000000], "nice": false},
              "axis": {"values": [300,400,500,600,700,800,900,1000,2000,3000,4000,5000,6000,7000,8000,9000,10000,20000,30000,40000,50000,60000,70000,80000,90000,100000,200000,300000,400000,500000,600000,700000,800000,900000,1000000,2000000,3000000,4000000,5000000,6000000,7000000,8000000,9000000,10000000,20000000,30000000,40000000,50000000,60000000,70000000,80000000,90000000],
                "labelExpr": "datum.value == 10000 ? '10⁴' : (datum.value == 1000000 ? '10⁶' : '')",
                "tickSize": {"condition": {"test": "indexof([1000,10000,100000,1000000,10000000], datum.value) >= 0", "value": -7}, "value": -4},
                "tickColor": "black", "tickWidth": 1.2, "labelFontSize": 24, "labelFontWeight": "bold", "labelPadding": 18,
                "title": "Intensité (u.a.)", "titleFontSize": 24, "titleFontWeight": "bold", "titlePadding": 10}}
          },
          "layer": [
            {
              "data": {"name": "liq"},
              "mark": {"type": "line", "strokeWidth": 3.5, "interpolate": "monotone", "clip": true},
              "encoding": {"color": {"field": "T", "type": "nominal", "legend": null,
                "scale": {"domain": ["150","145","140","135","130","125","120","115","110","105","100","90","80","70","65","62.5","60","57.5","50","30"],
                  "range": ["#000080","#800080","#800000","#008000","#008080","#0000b0","#ff8000","#8000ff","#ff0080","#ff8000","#c0c0c0","#808080","#000000","#008000","#ff80ff","#606060","#000000","#000000","#ff0000","#000000"]}}}
            },
            {
              "data": {"name": "cry"},
              "mark": {"type": "line", "strokeWidth": 2.2, "clip": true},
              "encoding": {"color": {"field": "T", "type": "nominal", "legend": null}}
            },
            {
              "data": {"name": "lab"},
              "mark": {"type": "text", "align": "left", "baseline": "middle", "dx": 3, "font": "Liberation Serif", "fontSize": 24, "fontWeight": "bold", "color": "black"},
              "encoding": {"text": {"field": "label", "type": "nominal"}}
            }
          ]
        }
      ]
    },
    {
      "width": 511, "height": 412,
      "view": {"stroke": "#555555", "strokeWidth": 1.5},
      "encoding": {
        "x": {"field": "q", "type": "quantitative", "scale": {"domain": [0.0595, 0.5508], "nice": false, "zero": false},
          "axis": {"values": [0.1,0.15,0.2,0.25,0.3,0.35,0.4,0.45,0.5,0.55], "format": ".1f", "labelExpr": "indexof([0.1,0.2,0.3,0.4,0.5], datum.value) >= 0 ? datum.label : ''", "tickSize": -5, "tickColor": "#555555", "tickWidth": 1.2, "labelFontSize": 28, "labelPadding": 16, "title": "q (Å⁻¹)", "titleFontSize": 28, "titleFontWeight": "normal", "titlePadding": 2}},
        "y": {"field": "I", "type": "quantitative", "scale": {"domain": [-277, 5526], "nice": false, "zero": false},
          "axis": {"values": [0,500,1000,1500,2000,2500,3000,3500,4000,4500,5000], "format": "d", "labelExpr": "datum.value % 1000 == 0 ? datum.label : ''", "tickSize": -6, "tickColor": "#555555", "tickWidth": 1.2, "labelFontSize": 28, "labelPadding": 24, "title": "Intensité (u. a.)", "titleFontSize": 28, "titleFontWeight": "normal", "titlePadding": 4}}
      },
      "layer": [
        {"data": {"name": "raw"}, "mark": {"type": "line", "color": "#87cefa", "strokeWidth": 5, "clip": true}, "encoding": {}},
        {
          "data": {"name": "meas"},
          "mark": {"type": "line", "strokeWidth": 1.5, "clip": true},
          "encoding": {
            "color": {"field": "s", "type": "nominal", "scale": {"domain": ["C18","Gaussienne 1","Gaussienne 2","Somme"], "range": ["#1a4f8c","#5a5a40","#c5d41a","#ff5c33"]},
              "legend": {"title": null, "orient": "top-right", "offset": 6, "strokeColor": "black", "fillColor": "white", "padding": 12, "labelFontSize": 17, "labelLimit": 400, "labelOffset": 10, "symbolSize": 400, "symbolStrokeWidth": 1.5, "rowPadding": 4,
                "labelExpr": "datum.value == 'C18' ? ['C₁₈C₁₈Im⁺/TFSI⁻', '(100 °C, refroidissement 1)'] : datum.value",
                "encode": {
                  "labels": {"update": {"lineHeight": {"value": 26}}},
                  "symbols": {"update": {"shape": {"signal": "datum.value == 'C18' ? 'M-1.8,0H1.8M-0.25,-0.35L0.3,0L-0.25,0.35Z' : 'M-1.8,0H1.8'"}, "fill": {"signal": "datum.value == 'C18' ? '#1a4f8c' : 'transparent'"}}}}}},
            "strokeDash": {"field": "s", "type": "nominal", "scale": {"domain": ["C18","Gaussienne 1","Gaussienne 2","Somme"], "range": [[1,0],[1,0],[1,0],[5,3]]}}
          }
        },
        {
          "data": {"name": "meas"},
          "mark": {"type": "point", "shape": "triangle-right", "filled": true, "size": 55, "color": "#1a4f8c", "opacity": 1, "clip": true},
          "encoding": {}
        },
        {
          "data": {"name": "fit"},
          "mark": {"type": "line", "strokeWidth": 1.3, "interpolate": "monotone", "clip": true},
          "encoding": {
            "color": {"field": "s", "type": "nominal"},
            "strokeDash": {"field": "s", "type": "nominal"}
          }
        }
      ]
    }
  ],
  "spacing": 37
}
